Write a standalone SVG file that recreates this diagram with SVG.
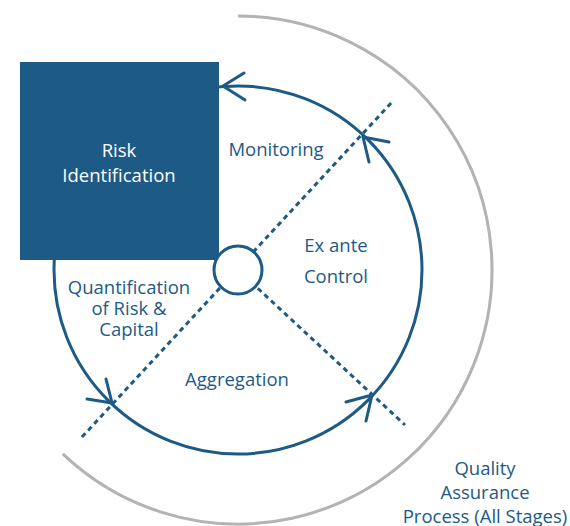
<svg xmlns="http://www.w3.org/2000/svg" width="570" height="526" viewBox="0 0 570 526">
  <style>
    .lbl { font-family: "Open Sans", "Liberation Sans", sans-serif; font-size: 18.5px; fill: #1d5a86; text-anchor: middle; }
    .lbl-inv { fill: #ffffff; }
    .cycle { fill: none; stroke: #1d5a86; stroke-width: 3; }
    .head { fill: none; stroke: #1d5a86; stroke-width: 3; stroke-linecap: round; stroke-linejoin: round; }
    .axis { fill: none; stroke: #1d5a86; stroke-width: 3; stroke-dasharray: 5 4; }
    .qa-ring { fill: none; stroke: #b3b3b3; stroke-width: 3; }
  </style>
  <rect width="570" height="526" fill="#ffffff"/>

  <g id="connectors">
    <!-- outer quality assurance ring -->
    <path class="qa-ring" d="M 238 16 A 254 254 0 1 1 62.8 453.9"/>
    <!-- risk management cycle -->
    <circle class="cycle" cx="238" cy="270" r="184"/>
    <!-- dividing axes -->
    <line class="axis" x1="82" y1="437" x2="392" y2="102"/>
    <line class="axis" x1="238" y1="270" x2="405" y2="425"/>
    <!-- cycle arrowheads -->
    <polyline class="head" points="244,73 223,86 245,100"/>
    <polyline class="head" points="389,142 363,137 369,162"/>
    <polyline class="head" points="87,399 112,403 106,379"/>
    <polyline class="head" points="346,402 372,395 366,421"/>
  </g>

  <g id="risk-identification">
    <rect x="20" y="62" width="199" height="198" fill="#1d5a86"/>
    <text class="lbl lbl-inv" x="119" y="157">Risk</text>
    <text class="lbl lbl-inv" x="119" y="182">Identification</text>
  </g>

  <g id="hub">
    <circle cx="238" cy="270" r="24" fill="#ffffff" stroke="#1d5a86" stroke-width="3"/>
  </g>

  <g id="monitoring">
    <text class="lbl" x="276" y="156">Monitoring</text>
  </g>

  <g id="ex-ante-control">
    <text class="lbl" x="336" y="252">Ex ante</text>
    <text class="lbl" x="336" y="283">Control</text>
  </g>

  <g id="quantification">
    <text class="lbl" x="129" y="294">Quantification</text>
    <text class="lbl" x="129" y="315">of Risk &amp;</text>
    <text class="lbl" x="129" y="336">Capital</text>
  </g>

  <g id="aggregation">
    <text class="lbl" x="237" y="386">Aggregation</text>
  </g>

  <g id="quality-assurance">
    <text class="lbl" x="485" y="475">Quality</text>
    <text class="lbl" x="485" y="499">Assurance</text>
    <text class="lbl" x="485" y="523">Process (All Stages)</text>
  </g>
</svg>
